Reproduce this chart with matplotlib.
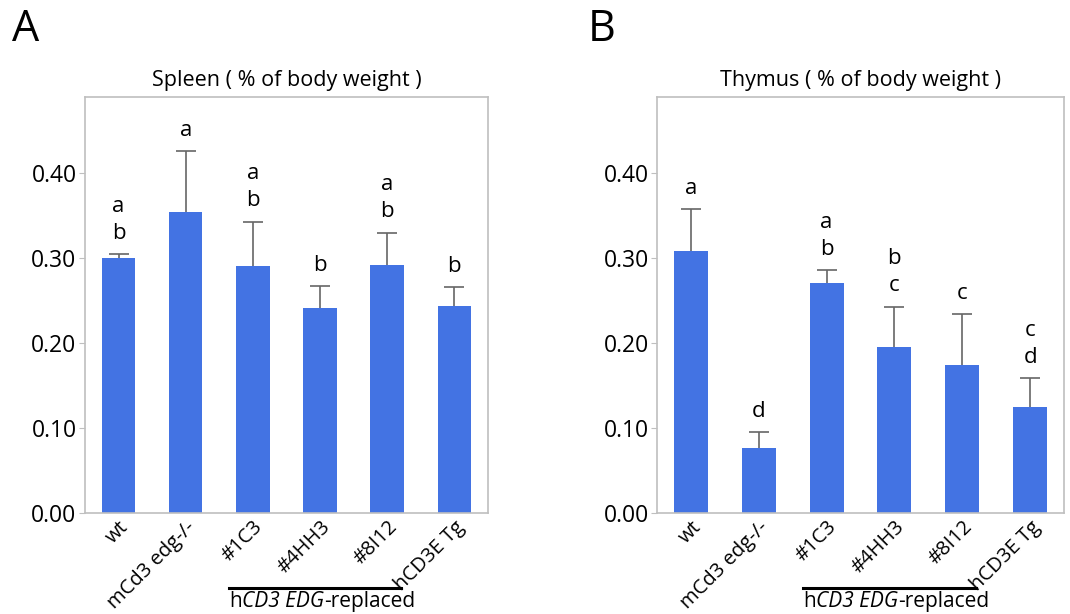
import numpy as np
import matplotlib
matplotlib.use("Agg")
import matplotlib.pyplot as plt
from matplotlib.transforms import offset_copy

plt.rcParams['font.family'] = ['Open Sans', 'DejaVu Sans']

groups = ["wt", "mCd3 edg-/-", "#1C3", "#4HH3", "#8I12", "hCD3E Tg"]

spleen_mean = [0.300, 0.354, 0.291, 0.242, 0.292, 0.244]
spleen_err = [0.005, 0.072, 0.052, 0.025, 0.038, 0.022]
spleen_letters = ["ab", "a", "ab", "b", "ab", "b"]

thymus_mean = [0.309, 0.076, 0.271, 0.195, 0.174, 0.125]
thymus_err = [0.049, 0.019, 0.015, 0.048, 0.060, 0.034]
thymus_letters = ["a", "d", "ab", "bc", "c", "cd"]

# bracket label pieces: (text, style)
bracket_parts = [("h", "normal"), ("CD3 EDG", "italic"), ("-replaced", "normal")]

yticks = [0.0, 0.1, 0.2, 0.3, 0.4]
bar_color = "#4373E3"
grey = "#BFBFBF"


def panel(fig, ax, means, errs, letters, title):
    x = np.arange(len(groups))
    ax.bar(x, means, width=0.5, color=bar_color, zorder=2)
    # upper error only; lower half hidden behind the bar
    ax.errorbar(x, means, yerr=errs, fmt='none', ecolor="#666666",
                elinewidth=1.2, capsize=7, capthick=1.2, zorder=1)
    for xi, m, e, lab in zip(x, means, errs, letters):
        for k, ch in enumerate(lab[::-1]):
            ax.annotate(ch, (xi, m + e), xytext=(0, 21 + 27 * k),
                        textcoords='offset pixels', ha='center', va='center',
                        fontsize=16)
    ax.set_xlim(-0.5, len(groups) - 0.5)
    ax.set_ylim(0, 0.49)
    ax.set_yticks(yticks)
    ax.set_yticklabels([f"{v:.2f}" for v in yticks], fontsize=16.5)
    ax.set_xticks(x)
    ax.set_xticklabels(groups, rotation=45, ha='right', rotation_mode='anchor',
                       fontsize=14.5)
    ax.tick_params(axis='x', length=0, pad=3)
    ax.tick_params(axis='y', length=4, color=grey, pad=2)
    for s in ax.spines.values():
        s.set_color(grey)
        s.set_linewidth(1.2)
    ax.set_title(title, fontsize=15.5, pad=8)

    # bracket for the EDG-replaced lines
    trans = ax.get_xaxis_transform()
    ax.plot([1.65, 4.2], [-0.18, -0.18], color='black', lw=2.2,
            transform=trans, clip_on=False)
    renderer = fig.canvas.get_renderer()
    dx = 0
    for txt, style in bracket_parts:
        t = ax.text(1.65, -0.187, txt, style=style, fontsize=15,
                    transform=offset_copy(trans, fig=fig, x=dx, y=0, units='dots'),
                    ha='left', va='top')
        dx += t.get_window_extent(renderer).width


fig = plt.figure(figsize=(10.7, 6.14), dpi=100)
axA = fig.add_axes([0.0794, 0.1645, 0.3766, 0.6775])
axB = fig.add_axes([0.614, 0.1645, 0.3804, 0.6775])

panel(fig, axA, spleen_mean, spleen_err, spleen_letters, "Spleen ( % of body weight )")
panel(fig, axB, thymus_mean, thymus_err, thymus_letters, "Thymus ( % of body weight )")

fig.text(0.011, 0.951, "A", fontsize=31, va='center', ha='left')
fig.text(0.549, 0.951, "B", fontsize=31, va='center', ha='left')

fig.savefig("out.png", dpi=100)
